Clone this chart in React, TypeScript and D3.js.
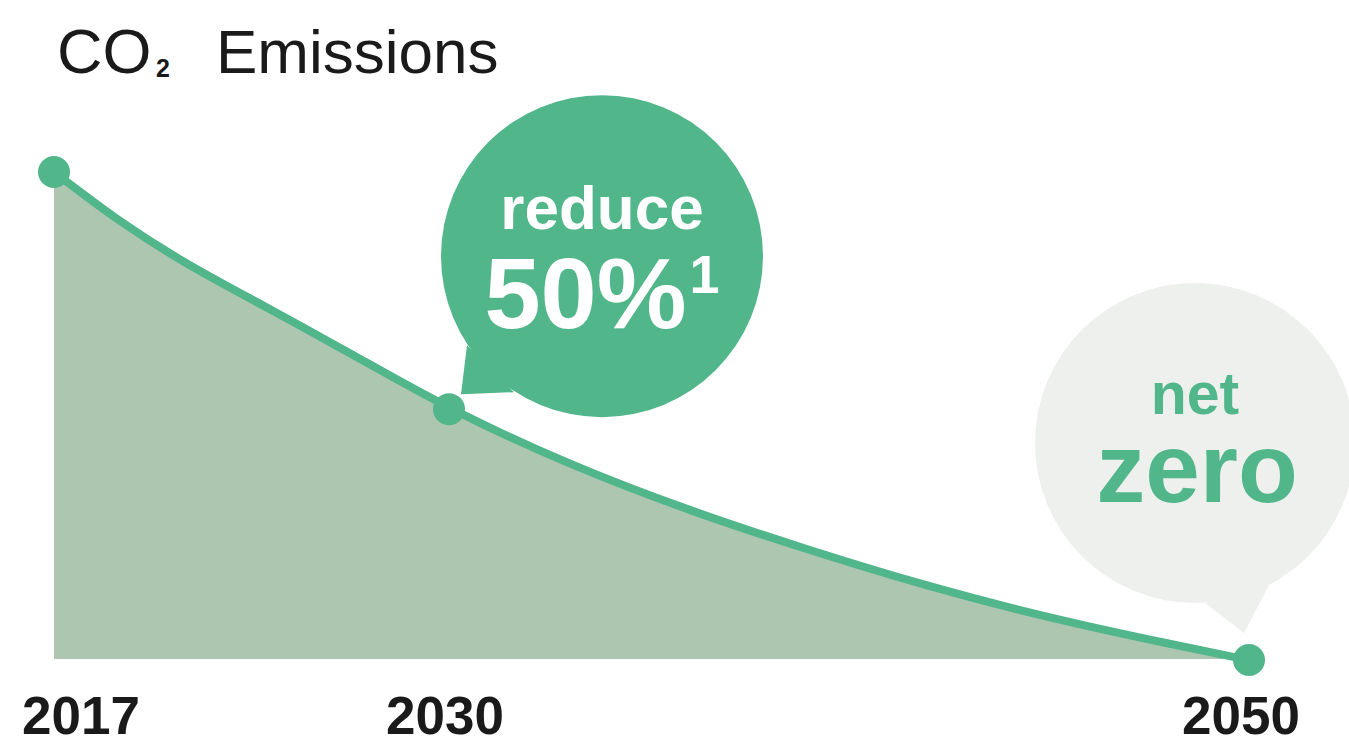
import { useEffect, useRef } from 'react';
import * as d3 from 'd3';

// emissions index (2017 = 100)
const years = [2017, 2018, 2019, 2021, 2023, 2025, 2027, 2030, 2033, 2036, 2039, 2042, 2045, 2048, 2050];
const emissions = [100, 95.3, 90.6, 82.4, 75.6, 68.9, 62.0, 51.4, 40.0, 30.6, 22.5, 15.0, 8.6, 3.3, 0];

const milestoneYears = [2017, 2030, 2050];
const milestoneLabels = ['2017', '2030', '2050'];

const titleMain = 'CO';
const titleSub = '2';
const titleRest = 'Emissions';

const reduceTop = 'reduce';
const reduceBig = '50%';
const reduceNote = '1';
const netTop = 'net';
const netBig = 'zero';

const GREEN = '#52b68b';
const AREA = '#adc6b0';
const GREY_BUBBLE = '#eef0ed';
const INK = '#1a1a1a';
const FONT = '"Liberation Sans", Arial, sans-serif';

const W = 1349;
const H = 738;

const App = () => {
  const ref = useRef<SVGSVGElement>(null);

  useEffect(() => {
    const svg = d3.select(ref.current);
    svg.selectAll('*').remove();

    // the years are not spaced evenly in the drawing, so the scale is piecewise
    const x = d3.scaleLinear().domain(milestoneYears).range([54, 449, 1249]);
    const y = d3.scaleLinear().domain([0, 100]).range([660, 172]);

    const pts: [number, number][] = years.map((yr, i) => [yr, emissions[i]]);

    const area = d3
      .area<[number, number]>()
      .x((d) => x(d[0]))
      .y0(y(0) - 1)
      .y1((d) => y(d[1]))
      .curve(d3.curveBasis);

    const line = d3
      .line<[number, number]>()
      .x((d) => x(d[0]))
      .y((d) => y(d[1]))
      .curve(d3.curveBasis);

    svg.append('path').attr('d', area(pts)).attr('fill', AREA);

    // speech bubbles, anchored on the milestone points
    const drawBubble = (
      yr: number,
      dx: number,
      dy: number,
      r: number,
      tail: [number, number][],
      fill: string
    ) => {
      const i = years.indexOf(yr);
      const cx = x(yr) + dx;
      const cy = y(emissions[i]) + dy;
      const g = svg.append('g').attr('transform', `translate(${cx},${cy})`);
      g.append('circle').attr('r', r).attr('fill', fill);
      g.append('path')
        .attr('d', 'M' + tail.map((p) => p.join(',')).join('L') + 'Z')
        .attr('fill', fill);
      return g;
    };

    const b1 = drawBubble(2030, 153, -153, 161, [[-135, 89], [-141, 138], [-88, 136]], GREEN);
    b1.append('text')
      .attr('y', -27)
      .attr('text-anchor', 'middle')
      .attr('font-family', FONT)
      .attr('font-weight', 700)
      .attr('font-size', 62)
      .attr('fill', '#fff')
      .text(reduceTop);
    const big = b1
      .append('text')
      .attr('y', 72)
      .attr('text-anchor', 'middle')
      .attr('font-family', FONT)
      .attr('font-weight', 700)
      .attr('font-size', 101)
      .attr('fill', '#fff');
    big.append('tspan').text(reduceBig);
    big.append('tspan').attr('font-size', 54).attr('dy', -35).attr('dx', 3).text(reduceNote);

    const b2 = drawBubble(2050, -54, -217, 160, [[10, 160], [49, 190], [74, 142]], GREY_BUBBLE);
    b2.append('text')
      .attr('y', -29)
      .attr('text-anchor', 'middle')
      .attr('font-family', FONT)
      .attr('font-weight', 700)
      .attr('font-size', 59)
      .attr('fill', GREEN)
      .text(netTop);
    b2.append('text')
      .attr('x', 2)
      .attr('y', 59)
      .attr('text-anchor', 'middle')
      .attr('font-family', FONT)
      .attr('font-weight', 700)
      .attr('font-size', 98)
      .attr('fill', GREEN)
      .text(netBig);

    svg.append('path')
      .attr('d', line(pts))
      .attr('fill', 'none')
      .attr('stroke', GREEN)
      .attr('stroke-width', 8)
      .attr('stroke-linecap', 'round');

    svg.selectAll('.dot')
      .data(milestoneYears)
      .enter()
      .append('circle')
      .attr('class', 'dot')
      .attr('cx', (d) => x(d))
      .attr('cy', (d) => y(emissions[years.indexOf(d)]))
      .attr('r', 16)
      .attr('fill', GREEN);

    // year labels: first left aligned, last right aligned
    const anchors = ['start', 'middle', 'end'];
    const shifts = [-32, -4, 51];
    svg.selectAll('.yr')
      .data(milestoneYears)
      .enter()
      .append('text')
      .attr('class', 'yr')
      .attr('x', (d, i) => x(d) + shifts[i])
      .attr('y', 734)
      .attr('text-anchor', (d, i) => anchors[i])
      .attr('font-family', FONT)
      .attr('font-weight', 700)
      .attr('font-size', 53)
      .attr('fill', INK)
      .text((d, i) => milestoneLabels[i]);

    // title
    const title = svg
      .append('text')
      .attr('x', 57)
      .attr('y', 73)
      .attr('font-family', FONT)
      .attr('font-size', 63)
      .attr('fill', INK);
    title.append('tspan').text(titleMain);
    title.append('tspan').attr('x', 156).attr('dy', 4).attr('font-size', 25).attr('font-weight', 700).text(titleSub);
    title.append('tspan').attr('x', 216).attr('dy', -4).attr('font-size', 62).text(titleRest);
  }, []);

  return (
    <svg
      ref={ref}
      width={W}
      height={H}
      style={{ position: 'absolute', left: 0, top: 0, background: '#fff' }}
    />
  );
};

export default App;
